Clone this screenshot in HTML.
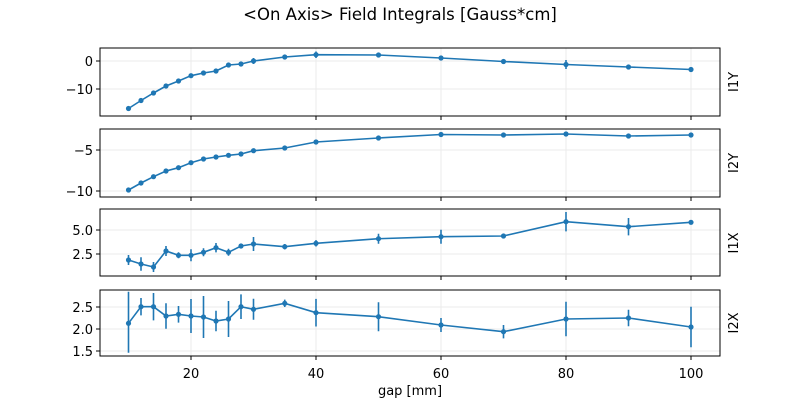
<!DOCTYPE html>
<html><head><style>body{margin:0;background:#fff}svg text{font-family:"DejaVu Sans","Liberation Sans",sans-serif;fill:#000}</style></head>
<body>
<svg width="800" height="400" xmlns="http://www.w3.org/2000/svg">
<rect width="800" height="400" fill="#fff"/>
<text x="400" y="20" font-size="16.5" text-anchor="middle">&lt;On Axis&gt; Field Integrals [Gauss*cm]</text>
<g stroke="#ebebeb" stroke-width="1">
<path d="M191 48V116M316 48V116M441 48V116M566 48V116M691 48V116M100 61H720M100 89H720"/>
<path d="M191 129V197M316 129V197M441 129V197M566 129V197M691 129V197M100 150H720M100 191H720"/>
<path d="M191 209V276M316 209V276M441 209V276M566 209V276M691 209V276M100 230H720M100 254H720"/>
<path d="M191 290V356M316 290V356M441 290V356M566 290V356M691 290V356M100 307H720M100 329H720M100 351H720"/>
</g>
<g fill="none" stroke="#000" stroke-width="1">
<rect x="100" y="48" width="620" height="68"/>
<rect x="100" y="129" width="620" height="68"/>
<rect x="100" y="209" width="620" height="67"/>
<rect x="100" y="290" width="620" height="66"/>
<path d="M96 61H100M96 89H100M96 150H100M96 191H100M96 230H100M96 254H100M96 307H100M96 329H100M96 351H100"/>
<path d="M191 116v4M316 116v4M441 116v4M566 116v4M691 116v4M191 197v4M316 197v4M441 197v4M566 197v4M691 197v4M191 276v4M316 276v4M441 276v4M566 276v4M691 276v4M191 356v4M316 356v4M441 356v4M566 356v4M691 356v4"/>
</g>
<g font-size="13" text-anchor="end">
<text x="93" y="66">0</text><text x="93" y="94">−10</text>
<text x="93" y="155">−5</text><text x="93" y="196">−10</text>
<text x="93" y="235">5.0</text><text x="93" y="259">2.5</text>
<text x="93" y="312">2.5</text><text x="93" y="334">2.0</text><text x="93" y="356">1.5</text>
</g>
<g font-size="13" text-anchor="middle">
<text x="191" y="378">20</text><text x="316" y="378">40</text><text x="441" y="378">60</text><text x="566" y="378">80</text><text x="691" y="378">100</text>
<text x="410" y="395">gap [mm]</text>
</g>
<g font-size="13" text-anchor="middle">
<text transform="translate(738 82) rotate(-90)">I1Y</text>
<text transform="translate(738 163) rotate(-90)">I2Y</text>
<text transform="translate(738 243) rotate(-90)">I1X</text>
<text transform="translate(738 323) rotate(-90)">I2X</text>
</g>
<g stroke="#1f77b4" fill="none" stroke-width="1.6">
<polyline points="128.5,108.5 141,100.5 153.5,93 166,86 178.5,81 191,75.7 203.5,73 216,71 228.5,65 241,64 253.5,61 284.75,57 316,54.7 378.5,55 441,58 503.5,61.5 566,64.5 628.5,67 691,69.5"/>
<path d="M253.5 58v6M316 51.5v6.5M566 60v9"/>
<polyline points="128.5,190 141,183 153.5,176.7 166,171 178.5,167.7 191,162.7 203.5,159 216,157 228.5,155.3 241,154 253.5,150.7 284.75,148 316,142 378.5,138 441,134.5 503.5,135 566,134 628.5,136 691,135"/>
<polyline points="128.5,260 141,264 153.5,267 166,251 178.5,255.3 191,255.3 203.5,252.3 216,247.7 228.5,252.3 241,246 253.5,244 284.75,246.7 316,243.3 378.5,238.7 441,236.7 503.5,236 566,221.7 628.5,226.7 691,222.3"/>
<path d="M128.5 255v10M141 257.3v13.4M153.5 262v10M166 246v10M178.5 252.3v6M191 249.3v12M203.5 248.3v8M216 243v9.4M228.5 248.8v7M241 243.5v5M253.5 237v14M284.75 244v5.4M316 240.1v6.4M378.5 233.7v10M441 229.7v14M503.5 234v4M566 212v19.4M628.5 218v17.4M691 220.3v4"/>
<polyline points="128.5,323.3 141,306.7 153.5,306.7 166,316 178.5,314.3 191,316 203.5,317 216,321 228.5,319 241,306.7 253.5,309.3 284.75,303.3 316,312.7 378.5,316.7 441,325 503.5,331.7 566,319 628.5,318 691,327"/>
<path d="M128.5 291.7v61M141 298v17.4M153.5 293v27.4M166 303.2v25.6M178.5 306v16.6M191 299v34M203.5 296v42M216 310.7v20.6M228.5 301v36M241 294.4v24.6M253.5 298.8v21M284.75 299.6v7.4M316 298.9v27.6M378.5 302.2v29M441 318v14M503.5 325v13.4M566 301.7v34.6M628.5 309.7v16.6M691 306.7v40.6"/>
</g>
<g fill="#1f77b4">
<circle cx="128.5" cy="108.5" r="2.6"/><circle cx="141" cy="100.5" r="2.6"/><circle cx="153.5" cy="93" r="2.6"/><circle cx="166" cy="86" r="2.6"/><circle cx="178.5" cy="81" r="2.6"/><circle cx="191" cy="75.7" r="2.6"/><circle cx="203.5" cy="73" r="2.6"/><circle cx="216" cy="71" r="2.6"/><circle cx="228.5" cy="65" r="2.6"/><circle cx="241" cy="64" r="2.6"/><circle cx="253.5" cy="61" r="2.6"/><circle cx="284.75" cy="57" r="2.6"/><circle cx="316" cy="54.7" r="2.6"/><circle cx="378.5" cy="55" r="2.6"/><circle cx="441" cy="58" r="2.6"/><circle cx="503.5" cy="61.5" r="2.6"/><circle cx="566" cy="64.5" r="2.6"/><circle cx="628.5" cy="67" r="2.6"/><circle cx="691" cy="69.5" r="2.6"/>
<circle cx="128.5" cy="190" r="2.6"/><circle cx="141" cy="183" r="2.6"/><circle cx="153.5" cy="176.7" r="2.6"/><circle cx="166" cy="171" r="2.6"/><circle cx="178.5" cy="167.7" r="2.6"/><circle cx="191" cy="162.7" r="2.6"/><circle cx="203.5" cy="159" r="2.6"/><circle cx="216" cy="157" r="2.6"/><circle cx="228.5" cy="155.3" r="2.6"/><circle cx="241" cy="154" r="2.6"/><circle cx="253.5" cy="150.7" r="2.6"/><circle cx="284.75" cy="148" r="2.6"/><circle cx="316" cy="142" r="2.6"/><circle cx="378.5" cy="138" r="2.6"/><circle cx="441" cy="134.5" r="2.6"/><circle cx="503.5" cy="135" r="2.6"/><circle cx="566" cy="134" r="2.6"/><circle cx="628.5" cy="136" r="2.6"/><circle cx="691" cy="135" r="2.6"/>
<circle cx="128.5" cy="260" r="2.6"/><circle cx="141" cy="264" r="2.6"/><circle cx="153.5" cy="267" r="2.6"/><circle cx="166" cy="251" r="2.6"/><circle cx="178.5" cy="255.3" r="2.6"/><circle cx="191" cy="255.3" r="2.6"/><circle cx="203.5" cy="252.3" r="2.6"/><circle cx="216" cy="247.7" r="2.6"/><circle cx="228.5" cy="252.3" r="2.6"/><circle cx="241" cy="246" r="2.6"/><circle cx="253.5" cy="244" r="2.6"/><circle cx="284.75" cy="246.7" r="2.6"/><circle cx="316" cy="243.3" r="2.6"/><circle cx="378.5" cy="238.7" r="2.6"/><circle cx="441" cy="236.7" r="2.6"/><circle cx="503.5" cy="236" r="2.6"/><circle cx="566" cy="221.7" r="2.6"/><circle cx="628.5" cy="226.7" r="2.6"/><circle cx="691" cy="222.3" r="2.6"/>
<circle cx="128.5" cy="323.3" r="2.6"/><circle cx="141" cy="306.7" r="2.6"/><circle cx="153.5" cy="306.7" r="2.6"/><circle cx="166" cy="316" r="2.6"/><circle cx="178.5" cy="314.3" r="2.6"/><circle cx="191" cy="316" r="2.6"/><circle cx="203.5" cy="317" r="2.6"/><circle cx="216" cy="321" r="2.6"/><circle cx="228.5" cy="319" r="2.6"/><circle cx="241" cy="306.7" r="2.6"/><circle cx="253.5" cy="309.3" r="2.6"/><circle cx="284.75" cy="303.3" r="2.6"/><circle cx="316" cy="312.7" r="2.6"/><circle cx="378.5" cy="316.7" r="2.6"/><circle cx="441" cy="325" r="2.6"/><circle cx="503.5" cy="331.7" r="2.6"/><circle cx="566" cy="319" r="2.6"/><circle cx="628.5" cy="318" r="2.6"/><circle cx="691" cy="327" r="2.6"/>
</g>
</svg>
</body></html>
